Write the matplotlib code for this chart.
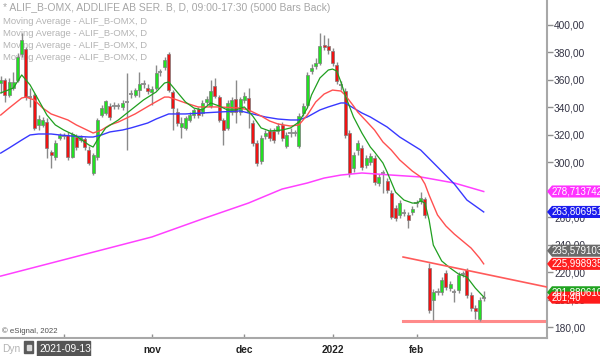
import numpy as np
import matplotlib
matplotlib.use("Agg")
import matplotlib.pyplot as plt
from matplotlib.patches import Polygon, Rectangle
from matplotlib.transforms import blended_transform_factory

plt.rcParams['font.family'] = ['Liberation Sans', 'DejaVu Sans']

# ALIF_B-OMX daily bars (index 0 = 2021-09-13)
opens = [357.7, 359.9, 349.0, 354.1, 359.9, 378.9, 382.5, 347.5, 349.0, 327.2,
         327.2, 329.3, 307.5, 303.8, 317.7, 319.1, 319.9, 303.8, 318.4, 316.2,
         317.0, 308.9, 292.2, 303.8, 334.4, 335.9, 341.0, 341.0, 341.0, 340.3,
         343.9, 349.7, 349.0, 352.6, 357.0, 354.1, 351.2, 354.1, 365.8, 369.4,
         378.9, 351.2, 336.6, 325.7, 325.0, 330.8, 334.4, 338.8, 335.9, 343.9,
         341.0, 355.6, 347.5, 330.8, 325.0, 336.6, 346.1, 336.6, 345.4, 346.8,
         328.6, 314.0, 300.9, 319.1, 322.8, 322.8, 322.8, 327.2, 311.9, 321.3,
         321.3, 311.9, 335.9, 341.7, 366.5, 370.1, 372.3, 385.4, 384.7, 381.1,
         370.9, 356.3, 351.9, 321.3, 295.8, 308.9, 310.4, 298.0, 300.2, 303.1,
         284.9, 292.2, 286.4, 277.6, 266.7, 261.6, 263.0, 261.6, 263.8, 270.3,
         271.8, 273.2, 223.0, 199.7, 205.5, 205.5, 219.3, 208.4, 205.5, 206.9,
         218.6, 221.5, 203.3, 193.8, 185.8, 201.4]
highs = [362.8, 361.4, 361.4, 365.8, 379.6, 394.2, 384.0, 354.1, 350.5, 334.4,
         333.0, 332.3, 308.9, 316.2, 321.3, 321.3, 322.1, 322.1, 320.6, 319.9,
         318.4, 311.9, 306.8, 332.3, 341.7, 345.4, 343.2, 343.9, 343.2, 345.4,
         365.0, 352.6, 354.1, 365.8, 359.9, 357.0, 355.6, 370.9, 367.9, 376.7,
         380.3, 352.6, 339.5, 333.0, 333.7, 336.6, 339.5, 340.3, 345.4, 348.3,
         359.9, 361.4, 349.0, 332.3, 345.4, 347.5, 359.9, 347.5, 351.2, 354.1,
         330.8, 316.2, 319.9, 323.5, 325.0, 325.0, 328.6, 329.3, 322.1, 325.0,
         323.5, 335.9, 343.2, 365.8, 371.6, 376.0, 394.2, 392.7, 390.5, 383.2,
         373.0, 359.2, 354.1, 323.5, 307.5, 316.2, 312.6, 305.3, 306.8, 305.3,
         291.5, 294.4, 288.5, 279.8, 268.9, 272.5, 266.0, 263.8, 268.1, 272.5,
         278.3, 274.7, 226.6, 207.7, 208.4, 216.4, 221.5, 213.5, 207.7, 220.1,
         220.8, 223.0, 205.5, 196.0, 201.8, 206.2]
lows = [350.5, 343.9, 347.5, 352.6, 358.5, 376.7, 345.4, 340.3, 323.5, 323.5,
        325.7, 303.1, 295.8, 301.7, 316.2, 317.0, 301.7, 303.1, 308.9, 314.8,
        308.9, 298.0, 290.7, 301.7, 333.0, 334.4, 330.8, 338.8, 338.8, 338.1,
        308.9, 346.8, 347.5, 347.5, 354.1, 349.7, 341.7, 352.6, 362.8, 367.2,
        351.2, 323.5, 326.4, 317.7, 323.5, 329.3, 332.3, 332.3, 333.7, 341.7,
        339.5, 346.8, 329.3, 312.6, 323.5, 334.4, 328.6, 334.4, 343.2, 325.0,
        311.9, 297.3, 298.7, 317.0, 315.5, 314.0, 320.6, 315.5, 310.4, 318.4,
        319.1, 310.4, 333.7, 340.3, 364.3, 367.9, 370.9, 381.8, 378.9, 370.1,
        357.0, 352.6, 317.7, 289.3, 292.9, 305.3, 294.4, 295.8, 298.0, 283.4,
        282.7, 277.6, 277.6, 258.7, 257.2, 259.4, 260.9, 252.1, 261.6, 267.4,
        269.6, 259.4, 190.2, 185.1, 203.3, 203.3, 206.9, 206.2, 198.2, 204.8,
        216.4, 201.1, 191.7, 185.8, 184.4, 198.9]
closes = [359.9, 349.0, 358.5, 358.5, 376.7, 389.1, 347.5, 347.5, 325.0, 331.5,
          330.8, 310.4, 305.3, 314.0, 319.9, 319.1, 303.8, 320.6, 311.1, 318.4,
          311.1, 299.5, 305.3, 330.8, 339.5, 344.6, 333.0, 341.0, 341.0, 343.2,
          343.9, 349.7, 352.6, 357.0, 357.0, 351.9, 353.4, 365.0, 365.8, 374.5,
          352.6, 339.5, 328.6, 328.6, 332.3, 334.4, 338.1, 334.4, 343.2, 346.1,
          351.9, 348.3, 330.8, 323.5, 343.2, 345.4, 336.6, 346.1, 348.3, 337.4,
          314.0, 299.5, 317.7, 321.3, 317.7, 316.2, 326.4, 317.7, 319.9, 321.3,
          321.3, 333.7, 341.0, 363.6, 368.7, 372.3, 384.7, 384.0, 381.8, 372.3,
          359.2, 356.3, 319.9, 292.2, 305.3, 314.0, 296.6, 303.1, 304.6, 285.6,
          289.3, 292.2, 279.8, 260.1, 259.4, 270.3, 263.0, 257.9, 266.0, 270.3,
          274.0, 261.6, 192.4, 205.5, 205.5, 214.2, 209.1, 211.3, 205.5, 217.9,
          218.6, 203.3, 193.8, 191.7, 199.7, 201.4]

# moving averages read at sample bars
green_idx = [0, 3, 5, 7, 9, 11, 13, 15, 18, 21, 22, 23, 25, 28, 31, 34, 37, 39, 40, 42,
             44, 46, 48, 50, 52, 54, 56, 58, 60, 62, 64, 67, 69, 71, 73, 74, 76, 78, 79, 80,
             81, 82, 84, 86, 88, 89, 91, 92, 93, 94, 96, 98, 99, 100, 101, 102, 103, 105,
             107, 109, 111, 113, 115]
green_ma = [350.5, 354.1, 363.6, 356.3, 345.4, 334.4, 327.2, 323.5, 319.1, 312.6, 311.1,
            316.2, 325.0, 330.8, 338.1, 345.4, 351.2, 357.7, 358.5, 351.2, 343.9, 339.5,
            338.1, 343.2, 341.0, 338.1, 338.1, 340.3, 333.7, 325.0, 322.8, 323.5, 325.0,
            329.3, 339.5, 349.0, 361.4, 367.2, 367.9, 366.5, 358.5, 349.0, 333.0, 321.3,
            311.1, 307.5, 299.5, 292.9, 285.6, 278.3, 272.5, 270.3, 270.3, 271.8, 270.3,
            257.9, 239.7, 228.1, 223.0, 218.6, 216.4, 208.4, 201.9]

red_idx = [0, 2, 5, 6, 8, 10, 12, 16, 18, 21, 22, 24, 26, 28, 32, 36, 39, 40, 42, 44,
           47, 52, 57, 59, 62, 64, 66, 69, 71, 73, 75, 77, 79, 81, 82, 84, 85, 87, 89, 91,
           93, 95, 98, 100, 101, 102, 104, 106, 108, 110, 112, 114, 115]
red_ma = [334.4, 339.5, 346.8, 347.5, 345.4, 339.5, 335.2, 330.8, 327.2, 322.8, 321.3,
          323.5, 327.2, 329.3, 335.2, 342.4, 347.5, 347.5, 345.4, 343.2, 340.3, 340.3,
          339.5, 338.1, 333.7, 330.1, 327.9, 326.4, 327.2, 334.4, 343.9, 349.7, 352.6,
          351.9, 349.0, 341.0, 336.6, 330.1, 323.5, 314.8, 308.9, 301.7, 293.6, 289.3,
          284.2, 276.1, 261.6, 253.6, 247.7, 242.6, 237.5, 230.3, 226.0]

blue_idx = [0, 2, 5, 7, 9, 12, 14, 17, 21, 22, 24, 26, 29, 31, 35, 37, 40, 44, 48, 52,
            57, 60, 63, 66, 69, 71, 73, 76, 78, 81, 82, 84, 86, 88, 92, 95, 100, 104, 108,
            111, 115]
blue_ma = [306.7, 310.4, 316.2, 319.9, 320.6, 320.6, 319.9, 319.1, 318.4, 318.4, 319.9,
           322.1, 323.5, 325.0, 328.6, 331.5, 335.2, 335.2, 335.9, 336.6, 337.4, 335.2,
           333.0, 331.5, 330.8, 330.8, 333.0, 338.1, 340.3, 343.2, 343.2, 339.5, 335.9,
           333.0, 325.7, 318.4, 308.9, 296.6, 284.2, 272.5, 263.8]

magenta_idx = [0, 12, 24, 36, 48, 59, 67, 73, 77, 81, 86, 93, 100, 108, 115]
magenta_ma = [217.1, 226.6, 236.1, 245.6, 258.7, 270.3, 280.5, 284.9, 288.5, 290.7,
              292.2, 290.7, 289.3, 284.9, 278.7]

# drawn trend lines
trend_idx = [95.8, 130.1]
trend_upper = [231.0, 209.1]
trend_lower = [184.4, 184.4]

month_ticks = [15, 36, 58, 79, 99]
month_labels = ['', 'nov', 'dec', '2022', 'feb']
price_ticks = list(range(180, 401, 20))

# right-edge value tags (value, colour, text)
tags = [(278.713742, '#ff33ff', '278,713742'),
        (263.806951, '#1c1cee', '263,806951'),
        (235.579103, '#6a6a6a', '235,579103'),
        (225.998935, '#ff2020', '225,998935'),
        (205.3, '#1fa31f', '201,880610'),
        (201.40, '#ff1a1a', '201,40')]


def fmt(v):
    return f"{v:.2f}".replace(".", ",")


fig = plt.figure(figsize=(6.0, 3.56), dpi=100)
ax = fig.add_axes([0, 18 / 356, 547 / 600, 338 / 356])

x = np.arange(len(closes))
o = np.array(opens)
h = np.array(highs)
l = np.array(lows)
c = np.array(closes)
up = c > o
dn = c < o
flat = c == o

ax.vlines(x, l, h, color='#8a8a8a', lw=1.0, zorder=2)
ax.bar(x[up], (c - o)[up], bottom=o[up], width=0.74, color='#22e022',
       edgecolor='#7c7c7c', lw=0.5, zorder=3)
ax.bar(x[dn], (o - c)[dn], bottom=c[dn], width=0.74, color='#f01212',
       edgecolor='#7c7c7c', lw=0.5, zorder=3)
ax.hlines(c[flat], x[flat] - 0.5, x[flat] + 0.5, color='#8a8a8a', lw=1.3, zorder=3)

ax.plot(magenta_idx, magenta_ma, color='#ff40ff', lw=1.1, zorder=4)
ax.plot(blue_idx, blue_ma, color='#3838ff', lw=1.0, zorder=4)
ax.plot(red_idx, red_ma, color='#ff5050', lw=1.0, zorder=4)
ax.plot(green_idx, green_ma, color='#1f9f1f', lw=0.9, zorder=4)

ax.plot(trend_idx, trend_upper, color='#ff5a5a', lw=1.2, zorder=4)
ax.plot(trend_idx, trend_lower, color='#ff8a8a', lw=2.2, zorder=1.5)

ax.set_xlim(-0.17, 130.07)
ax.set_ylim(172.0, 418.2)

ax.yaxis.tick_right()
ax.set_yticks(price_ticks)
ax.set_yticklabels([fmt(v) for v in price_ticks])
ax.tick_params(axis='y', direction='out', length=4, width=1, color='#909090',
               labelsize=7.3, labelcolor='#333344', pad=1)
ax.set_xticks(month_ticks)
ax.set_xticklabels(month_labels, fontweight='bold')
ax.tick_params(axis='x', direction='in', length=3, width=1, color='#909090',
               labelsize=7.3, labelcolor='#222222', pad=5)

for s in ['top', 'left']:
    ax.spines[s].set_visible(False)
for s in ['right', 'bottom']:
    ax.spines[s].set_color('#a8a8a8')
    ax.spines[s].set_linewidth(1.5)

# header texts (behind the candles)
ax.text(0.005, 1 - 8 / 338, '* ALIF_B-OMX, ADDLIFE AB SER. B, D, 09:00-17:30 (5000 Bars Back)',
        transform=ax.transAxes, fontsize=7.5, color='#a6a6a6', va='center', zorder=1)
for yy in [21, 33, 45, 57]:
    ax.text(0.005, 1 - yy / 338, 'Moving Average - ALIF_B-OMX, D',
            transform=ax.transAxes, fontsize=6.8, color='#b4b4b4', va='center', zorder=1)
ax.text(0.004, 1 - 331.5 / 338, '\u00a9 eSignal, 2022', transform=ax.transAxes,
        fontsize=5.6, color='#505050', va='center', zorder=1)

# bottom-left widgets
fig.text(2 / 600, 1 - 349 / 356, 'Dyn', fontsize=7.3, color='#b4b4b4', va='center')
fig.add_artist(Rectangle((24 / 600, 1 - 353 / 356), 9 / 600, 12 / 356,
                         transform=fig.transFigure, color='#5a5a5a'))
fig.add_artist(Rectangle((26.5 / 600, 1 - 350 / 356), 4 / 600, 5 / 356,
                         transform=fig.transFigure, color='#d8d8d8'))
fig.add_artist(Rectangle((37 / 600, 0), 53 / 600, 15 / 356,
                         transform=fig.transFigure, color='#555555'))
fig.text(39 / 600, 1 - 349 / 356, '2021-09-13', fontsize=7.3, color='white', va='center')

# value tags on the price scale
tr = blended_transform_factory(fig.transFigure, ax.transData)
hh = 4.4
for val, col, txt in tags:
    pts = [(547 / 600, val), (552 / 600, val + hh), (1.0, val + hh),
           (1.0, val - hh), (552 / 600, val - hh)]
    fig.add_artist(Polygon(pts, closed=True, transform=tr, facecolor=col,
                           edgecolor='none', zorder=5))
    fig.text(552 / 600, val, txt, transform=tr, fontsize=7.0, color='white',
             va='center', ha='left', zorder=6)

fig.savefig('out.png', dpi=100)
